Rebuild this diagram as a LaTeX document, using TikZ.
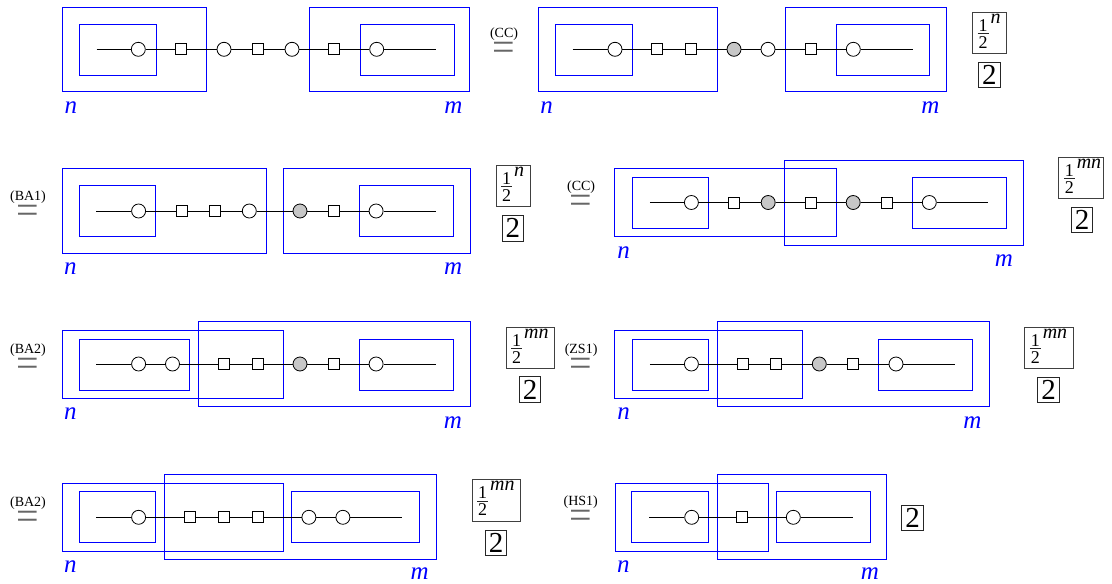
\documentclass[tikz,border=0pt]{standalone}
\usepackage{fontspec}
\setmainfont{Liberation Serif}
\usetikzlibrary{calc}
\tikzset{
  bbox/.style={draw=blue, line width=0.9pt},
  wire/.style={draw=black, line width=0.8pt},
  zsp/.style={circle, draw=black, fill=white, minimum size=14pt, inner sep=0pt, line width=0.8pt},
  gsp/.style={zsp, fill=black!22},
  hsq/.style={rectangle, draw=black, fill=white, minimum size=11pt, inner sep=0pt, line width=0.8pt},
  lbl/.style={text=blue, font=\fontsize{25}{25}\selectfont\itshape, anchor=base, inner sep=0pt},
  eqn/.style={inner sep=0pt, anchor=base},
  fbox/.style={draw=black!75, line width=0.9pt, minimum height=41.3pt, inner sep=0pt},
  fdig/.style={font=\fontsize{18}{18}\selectfont, inner sep=0pt, anchor=base},
  fsup/.style={font=\fontsize{20}{20}\selectfont\itshape, inner sep=0pt, anchor=base west},
  fbar/.style={draw=black!85, line width=0.8pt},
  twobox/.style={draw=black!85, line width=0.9pt, minimum width=21.3pt, minimum height=25.5pt, inner sep=0pt, font=\fontsize{29}{29}\selectfont},
}
% rule name set over an equals sign, as one text
\newcommand\eqlab[1]{\vbox{\offinterlineskip
  \hbox to 40pt{\hss\fontsize{14}{14}\selectfont #1\hss}%
  \kern1.7pt
  \hbox to 40pt{\hss\fontsize{40}{40}\selectfont\color{black!60}=\hss}}}
\newcommand\fracbox[5]{%
  \node[fbox, minimum width=#4pt, anchor=north west] (#1) at (#2,#3) {};
  \node[fdig] (#1-n) at ($(#1.north west)+(11,19.5)$) {1};
  \node[fdig] (#1-d) at ($(#1.north west)+(11,36.5)$) {2};
  \coordinate (#1-bl) at ($(#1.north west)+(5.5,21.8)$);
  \coordinate (#1-br) at ($(#1.north west)+(16.5,21.8)$);
  \draw[fbar] (#1-bl) -- (#1-br);
  \node[fsup] (#1-s) at ($(#1.north west)+(18.3,11.5)$) {#5};
}
\begin{document}
\begin{tikzpicture}[x=1pt, y=-1pt]
\useasboundingbox (0,0) rectangle (1112,584);

% ===================== Panel A (row 1 left)
\draw[bbox] (62.3,7) rectangle (206.7,91.7);
\draw[bbox] (79.3,24) rectangle (156,75);
\draw[bbox] (309,7) rectangle (469,91.7);
\draw[bbox] (360,24) rectangle (454,75);
\coordinate (a0) at (96.7,49.3);
\node[zsp] (a1) at (138.3,49.3) {};
\node[hsq] (a2) at (181,49.3) {};
\node[zsp] (a3) at (224,49.3) {};
\node[hsq] (a4) at (258,49.3) {};
\node[zsp] (a5) at (292,49.3) {};
\node[hsq] (a6) at (334.3,49.3) {};
\node[zsp] (a7) at (376.7,49.3) {};
\coordinate (a8) at (436,49.3);
\draw[wire] (a0) -- (a1) -- (a2) -- (a3) -- (a4) -- (a5) -- (a6) -- (a7) -- (a8);
\node[lbl] (an) at (70.8,113.3) {n};
\node[lbl] (am) at (453.3,113.3) {m};

% ===================== Panel B (row 1 right)
\node[eqn] (beq) at (504,60.6) {\eqlab{(CC)}};
\draw[bbox] (538.3,7) rectangle (717.3,91.7);
\draw[bbox] (555.7,24) rectangle (632.3,75);
\draw[bbox] (785,7) rectangle (946,91.7);
\draw[bbox] (836,24) rectangle (929.3,75);
\coordinate (b0) at (572.7,49.3);
\node[zsp] (b1) at (615,49.3) {};
\node[hsq] (b2) at (657.3,49.3) {};
\node[hsq] (b3) at (691.3,49.3) {};
\node[gsp] (b4) at (734,49.3) {};
\node[zsp] (b5) at (768,49.3) {};
\node[hsq] (b6) at (810.7,49.3) {};
\node[zsp] (b7) at (853.3,49.3) {};
\coordinate (b8) at (912.7,49.3);
\draw[wire] (b0) -- (b1) -- (b2) -- (b3) -- (b4) -- (b5) -- (b6) -- (b7) -- (b8);
\node[lbl] (bn) at (546.7,113.3) {n};
\node[lbl] (bm) at (930.5,113.3) {m};
\fracbox{bf}{972}{11.7}{34.3}{n}
\node[twobox] (bt) at (989.3,75) {2};

% ===================== Panel C (row 2 left)
\node[eqn] (ceq) at (28,223.9) {\eqlab{(BA1)}};
\draw[bbox] (62.5,168.3) rectangle (266.4,253.3);
\draw[bbox] (79.3,185.7) rectangle (155.7,236.7);
\draw[bbox] (283.2,168.3) rectangle (470.3,253.3);
\draw[bbox] (359.6,185.7) rectangle (453.3,236.7);
\coordinate (c0) at (96.4,211);
\node[zsp] (c1) at (138.6,211) {};
\node[hsq] (c2) at (181.4,211) {};
\node[hsq] (c3) at (215,211) {};
\node[zsp] (c4) at (249.3,211) {};
\node[gsp] (c5) at (300,211) {};
\node[hsq] (c6) at (333.9,211) {};
\node[zsp] (c7) at (376.1,211) {};
\coordinate (c8) at (436,211);
\draw[wire] (c0) -- (c1) -- (c2) -- (c3) -- (c4) -- (c5) -- (c6) -- (c7) -- (c8);
\node[lbl] (cn) at (70.4,274.9) {n};
\node[lbl] (cm) at (453.2,274.9) {m};
\fracbox{cf}{495.7}{165}{34.6}{n}
\node[twobox] (ct) at (512.8,228.2) {2};

% ===================== Panel D (row 2 right)
\node[eqn] (deq) at (581.1,213.9) {\eqlab{(CC)}};
\draw[bbox] (614.6,168.3) rectangle (836.6,236.7);
\draw[bbox] (632.2,177.3) rectangle (708.3,228.3);
\draw[bbox] (784.8,160) rectangle (1023.3,245);
\draw[bbox] (912.7,177.3) rectangle (1006,228.3);
\coordinate (d0) at (649.9,202.5);
\node[zsp] (d1) at (691.4,202.5) {};
\node[hsq] (d2) at (734.1,202.5) {};
\node[gsp] (d3) at (768.2,202.5) {};
\node[hsq] (d4) at (810.5,202.5) {};
\node[gsp] (d5) at (853.2,202.5) {};
\node[hsq] (d6) at (887.2,202.5) {};
\node[zsp] (d7) at (929.3,202.5) {};
\coordinate (d8) at (988.3,202.5);
\draw[wire] (d0) -- (d1) -- (d2) -- (d3) -- (d4) -- (d5) -- (d6) -- (d7) -- (d8);
\node[lbl] (dn) at (623.5,258.3) {n};
\node[lbl] (dm) at (1004,266.7) {m};
\fracbox{df}{1058.3}{156.7}{44.4}{mn}
\node[twobox] (dt) at (1082.2,220) {2};

% ===================== Panel E (row 3 left)
\node[eqn] (eeq) at (28,376.4) {\eqlab{(BA2)}};
\draw[bbox] (62.5,330.7) rectangle (283.2,398.3);
\draw[bbox] (79.3,339) rectangle (189.3,390);
\draw[bbox] (198.2,321.7) rectangle (470.3,406.7);
\draw[bbox] (359.6,339) rectangle (453.3,390);
\coordinate (e0) at (96.4,364);
\node[zsp] (e1) at (138.6,364) {};
\node[zsp] (e2) at (172.5,364) {};
\node[hsq] (e3) at (223.6,364) {};
\node[hsq] (e4) at (257.9,364) {};
\node[gsp] (e5) at (300,364) {};
\node[hsq] (e6) at (333.9,364) {};
\node[zsp] (e7) at (376.1,364) {};
\coordinate (e8) at (436,364);
\draw[wire] (e0) -- (e1) -- (e2) -- (e3) -- (e4) -- (e5) -- (e6) -- (e7) -- (e8);
\node[lbl] (en) at (70.4,419.9) {n};
\node[lbl] (em) at (453,428.3) {m};
\fracbox{ef}{505.7}{326.7}{48.3}{mn}
\node[twobox] (et) at (530,389.5) {2};

% ===================== Panel F (row 3 right)
\node[eqn] (feq) at (581.1,376.9) {\eqlab{(ZS1)}};
\draw[bbox] (614.6,330.7) rectangle (802.4,398.3);
\draw[bbox] (632.2,339) rectangle (708.3,390);
\draw[bbox] (717.2,321.7) rectangle (989.3,406.7);
\draw[bbox] (878.9,339) rectangle (972.3,390);
\coordinate (f0) at (649.9,364);
\node[zsp] (f1) at (691.4,364) {};
\node[hsq] (f2) at (742.5,364) {};
\node[hsq] (f3) at (776.3,364) {};
\node[gsp] (f4) at (819.3,364) {};
\node[hsq] (f5) at (853.2,364) {};
\node[zsp] (f6) at (896,364) {};
\coordinate (f7) at (955,364);
\draw[wire] (f0) -- (f1) -- (f2) -- (f3) -- (f4) -- (f5) -- (f6) -- (f7);
\node[lbl] (fn) at (623.5,419.9) {n};
\node[lbl] (fm) at (972.5,428.3) {m};
\fracbox{ff}{1024.3}{326.7}{48.4}{mn}
\node[twobox] (ft) at (1048.5,389.7) {2};

% ===================== Panel G (row 4 left)
\node[eqn] (geq) at (28,529.4) {\eqlab{(BA2)}};
\draw[bbox] (62.5,483.3) rectangle (283.2,551);
\draw[bbox] (79.3,491.7) rectangle (155.7,542.3);
\draw[bbox] (164.3,474.3) rectangle (436,559.3);
\draw[bbox] (291.8,491.7) rectangle (419.3,542.3);
\coordinate (g0) at (96.4,517.3);
\node[zsp] (g1) at (138.6,517.3) {};
\node[hsq] (g2) at (189.6,517.3) {};
\node[hsq] (g3) at (223.6,517.3) {};
\node[hsq] (g4) at (257.9,517.3) {};
\node[zsp] (g5) at (308.9,517.3) {};
\node[zsp] (g6) at (342.9,517.3) {};
\coordinate (g7) at (402,517.3);
\draw[wire] (g0) -- (g1) -- (g2) -- (g3) -- (g4) -- (g5) -- (g6) -- (g7);
\node[lbl] (gn) at (70.4,572.6) {n};
\node[lbl] (gm) at (419.6,579.5) {m};
\fracbox{gf}{471.7}{479.3}{48.3}{mn}
\node[twobox] (gt) at (496.2,543) {2};

% ===================== Panel H (row 4 right)
\node[eqn] (heq) at (580.8,528.9) {\eqlab{(HS1)}};
\draw[bbox] (615,483.3) rectangle (768.3,551);
\draw[bbox] (631.7,491.7) rectangle (708.3,542.3);
\draw[bbox] (717,474.3) rectangle (886.7,559.3);
\draw[bbox] (776.7,491.7) rectangle (870,542.3);
\coordinate (h0) at (649.3,517.3);
\node[zsp] (h1) at (691.7,517.3) {};
\node[hsq] (h2) at (742.3,517.3) {};
\node[zsp] (h3) at (793.3,517.3) {};
\coordinate (h4) at (852.7,517.3);
\draw[wire] (h0) -- (h1) -- (h2) -- (h3) -- (h4);
\node[lbl] (hn) at (623.3,572.6) {n};
\node[lbl] (hm) at (870,579.5) {m};
\node[twobox] (ht) at (912.5,518) {2};
\end{tikzpicture}
\end{document}
